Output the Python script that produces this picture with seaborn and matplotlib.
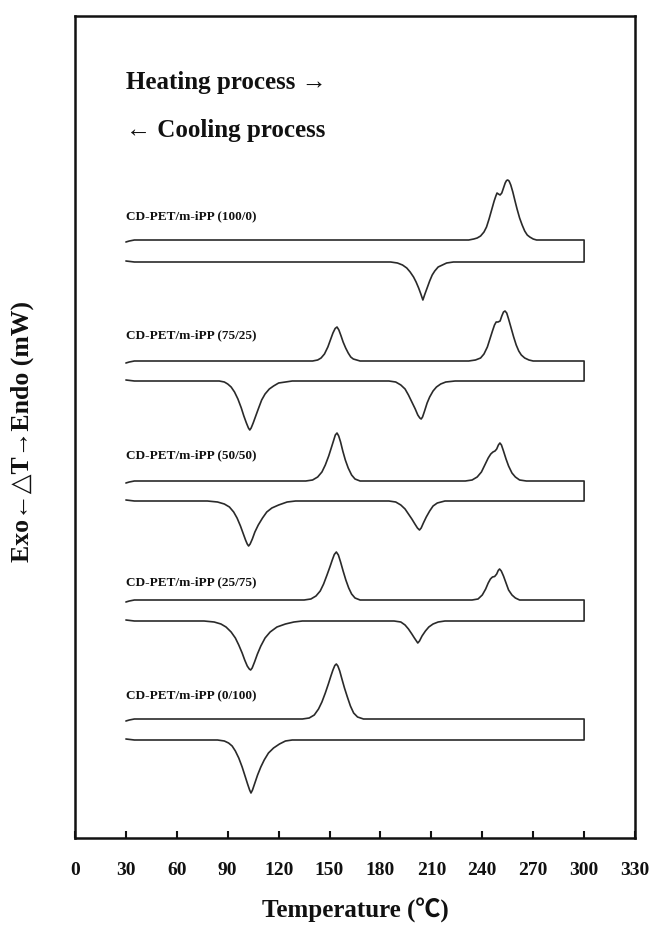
import matplotlib
matplotlib.use("Agg")
import matplotlib.pyplot as plt
import seaborn as sns

# DSC curves (signal in arbitrary units, endo up)
samples = ["CD-PET/m-iPP (100/0)", "CD-PET/m-iPP (75/25)", "CD-PET/m-iPP (50/50)",
           "CD-PET/m-iPP (25/75)", "CD-PET/m-iPP (0/100)"]

heat_T_100_0 = [30, 32, 35,
                232, 235, 237, 239, 241, 242.5, 244, 245.5, 247, 248, 248.7, 249.5, 250.5,
                251.5, 252.5, 253.5, 254.3, 255, 255.8, 256.8, 258, 259.3, 260.5, 262,
                263.5, 265, 266.5, 268, 270, 272, 300]
heat_S_100_0 = [-2, -1, 0,
                0, 1, 2, 4, 8, 13, 21, 30, 39, 44, 47, 46, 45,
                47, 52, 57, 59.5, 60, 59, 55, 48, 39, 31, 22,
                15, 9, 5, 3, 1, 0, 0]
cool_T_100_0 = [30, 35,
                186, 190, 193, 195.5, 197.5, 199.5, 201, 202.5, 203.8, 205, 206.2, 207.5,
                209, 210.5, 212, 214, 216.5, 219, 223, 300]
cool_S_100_0 = [1, 0,
                0, -1, -3, -6, -10, -15, -20, -26, -32, -38, -32, -26,
                -19, -13, -9, -5, -3, -1, 0, 0]

heat_T_75_25 = [30, 32, 35,
                140, 143, 145, 147, 149, 150.5, 152, 153.3, 154.4, 155.5, 156.8, 158, 159.5,
                161, 162.5, 164, 166, 168,
                232, 236, 239, 241, 243, 244.5, 246, 247.2, 248.2, 249.3, 250.5, 251.5, 252.5,
                253.4, 254.4, 255.5, 257, 258.5, 260, 261.5, 263, 265, 267.5, 270, 300]
heat_S_75_25 = [-2, -1, 0,
                0, 1, 3, 7, 14, 21, 28, 32.5, 34, 31, 25, 19, 13,
                8, 4, 2, 1, 0,
                0, 1, 3, 7, 14, 22, 30, 36, 39, 39, 40, 45, 49,
                50, 48, 42, 33, 24, 16, 10, 6, 3, 1, 0, 0]
cool_T_75_25 = [30, 35,
                85, 88, 90, 92, 94, 96, 98, 99.5, 101, 102.2, 103, 103.8, 105, 106.5, 108,
                110, 112, 114.5, 117, 120, 124, 128,
                185, 189, 192, 194.5, 196.5, 198.5, 200.5, 202, 203.2, 204, 204.8, 206, 207.5,
                209, 211, 213, 215.5, 218.5, 224, 300]
cool_S_75_25 = [1, 0,
                0, -1, -3, -6, -11, -18, -27, -35, -42, -47, -49, -47, -42, -35, -28,
                -19, -13, -8, -5, -2, -1, 0,
                0, -1, -4, -8, -14, -21, -28, -34, -37, -38, -36, -30, -22,
                -16, -10, -6, -3, -1, 0, 0]

heat_T_50_50 = [30, 32, 35,
                136, 140, 143, 145.5, 147.5, 149.5, 151, 152.3, 153.4, 154.4, 155.4, 156.5,
                157.8, 159.3, 161, 163, 165, 168,
                230, 234, 237, 239.5, 241.5, 243.5, 245, 246.3, 247.5, 248.5, 249.5, 250.4,
                251.3, 252.5, 254, 255.5, 257.5, 259.5, 262, 266, 300]
heat_S_50_50 = [-2, -1, 0,
                0, 1, 4, 9, 16, 25, 33, 40, 46, 48, 45, 39,
                30, 21, 13, 6, 2, 0,
                0, 1, 4, 9, 16, 23, 27, 29, 30, 32, 36, 38,
                36, 30, 22, 15, 8, 4, 1, 0, 0]
cool_T_50_50 = [30, 35,
                78, 84, 88, 91, 93.5, 95.5, 97.5, 99, 100.5, 101.5, 102.3, 103.2, 104.5, 106,
                108, 110.5, 113, 116, 120, 125, 130,
                185, 189, 192, 194.5, 196.5, 198.5, 200.3, 201.8, 203, 204, 205.3, 207, 209,
                211, 213.5, 218, 300]
cool_S_50_50 = [1, 0,
                0, -1, -3, -6, -11, -17, -25, -32, -39, -43, -45, -43, -38, -31,
                -24, -17, -11, -7, -4, -1, 0,
                0, -1, -4, -8, -13, -18, -23, -27, -29, -27, -22, -16, -10,
                -5, -2, 0, 0]

heat_T_25_75 = [30, 32, 35,
                135, 139, 142, 144.5, 146.5, 148.5, 150.2, 151.6, 152.8, 154, 155.2, 156.5,
                158, 159.6, 161.3, 163, 165, 168,
                234, 237.5, 240, 242, 243.5, 244.8, 246, 247.3, 248.5, 249.4, 250.2, 251.2,
                252.5, 254, 255.5, 257.5, 259.5, 262, 300]
heat_S_25_75 = [-2, -1, 0,
                0, 1, 4, 9, 16, 25, 33, 40, 45.5, 48, 45, 38,
                29, 20, 12, 6, 2, 0,
                0, 1, 5, 11, 17, 21, 23, 23.5, 26, 29.5, 31, 29,
                24, 17, 10, 5, 2, 0, 0]
cool_T_25_75 = [30, 35,
                76, 82, 86, 89, 92, 94.5, 96.5, 98.5, 100, 101.5, 102.7, 103.5, 104.4, 105.8,
                107.5, 109.5, 112, 115, 119, 124, 129, 134,
                188, 192, 194.5, 196.5, 198.5, 200, 201.2, 202, 203, 204.5, 206.5, 208.5,
                211, 214, 218, 300]
cool_S_25_75 = [1, 0,
                0, -1, -3, -6, -11, -17, -24, -32, -39, -45, -48, -49, -47, -41,
                -33, -25, -17, -11, -6, -3, -1, 0,
                0, -1, -4, -8, -13, -17, -20, -22, -20, -15, -10, -6,
                -3, -1, 0, 0]

heat_T_0_100 = [30, 32, 35,
                134, 138, 141, 143.5, 145.5, 147.5, 149.3, 150.8, 152, 153.1, 154, 154.9,
                156, 157.3, 158.8, 160.5, 162.3, 164.2, 166.5, 170, 300]
heat_S_0_100 = [-2, -1, 0,
                0, 1, 4, 10, 17, 26, 35, 43, 49, 53.5, 55, 53,
                48, 40, 31, 22, 13, 6, 2, 0, 0]
cool_T_0_100 = [30, 35,
                84, 88, 90.5, 92.6, 94.5, 96.5, 98.5, 100.2, 101.7, 102.9, 103.7, 104.6, 106,
                107.6, 109.5, 111.5, 114, 117, 120.5, 124, 128, 300]
cool_S_0_100 = [1, 0,
                0, -1, -3, -6, -11, -18, -27, -36, -44, -50, -53, -50, -43,
                -35, -27, -20, -13, -8, -4, -1, 0, 0]

heat_T = [heat_T_100_0, heat_T_75_25, heat_T_50_50, heat_T_25_75, heat_T_0_100]
heat_S = [heat_S_100_0, heat_S_75_25, heat_S_50_50, heat_S_25_75, heat_S_0_100]
cool_T = [cool_T_100_0, cool_T_75_25, cool_T_50_50, cool_T_25_75, cool_T_0_100]
cool_S = [cool_S_100_0, cool_S_75_25, cool_S_50_50, cool_S_25_75, cool_S_0_100]

x_ticks = [0, 30, 60, 90, 120, 150, 180, 210, 240, 270, 300, 330]

# layout: vertical stacking of the curves
heat_base = [598, 477, 357, 238, 119]
cool_base = [576, 457, 337, 217, 98]
label_y = [622, 503, 383, 256, 143]

sns.set_theme(style="white")
plt.rcParams["font.family"] = ["Liberation Serif", "DejaVu Sans"]
plt.rcParams["font.weight"] = "bold"

fig = plt.figure(figsize=(6.53, 9.26), dpi=100)
ax = fig.add_axes([75 / 653, 88 / 926, 560 / 653, 822 / 926])

line_col = "#2a2a2a"
for i, name in enumerate(samples):
    # heating run left to right, then the cooling run back from 300 C
    xs = list(heat_T[i]) + list(reversed(cool_T[i]))
    ys = [s + heat_base[i] for s in heat_S[i]] + [s + cool_base[i] for s in reversed(cool_S[i])]
    sns.lineplot(x=xs, y=ys, sort=False, estimator=None, ax=ax,
                 color=line_col, linewidth=1.2)
    ax.text(30, label_y[i], name, fontsize=9.5, fontweight="bold",
            ha="left", va="center", color="#111111")

ax.set_xlim(0, 330)
ax.set_ylim(0, 822)
ax.set_xticks(x_ticks)
ax.set_xticklabels([str(t) for t in x_ticks], fontsize=14, fontweight="bold")
ax.set_yticks([])
ax.tick_params(axis="x", direction="in", length=5, width=1.5, pad=17, colors="#111111",
               bottom=True)
for sp in ax.spines.values():
    sp.set_visible(True)
    sp.set_color("#111111")
    sp.set_linewidth(1.8)

ax.text(30, 756, "Heating process \u2192", fontsize=18, fontweight="bold",
        ha="left", va="center", color="#111111")
ax.text(30, 707, "\u2190 Cooling process", fontsize=18, fontweight="bold",
        ha="left", va="center", color="#111111")

fig.text(355 / 653, 1 - 910 / 926, "Temperature (\u2103)", fontsize=18, fontweight="bold",
         ha="center", va="center", color="#111111",
         family=["Liberation Serif", "Noto Sans CJK JP"])
fig.text(22 / 653, 1 - 432 / 926, "Exo\u2190\u25b3T\u2192Endo (mW)", fontsize=18.5,
         fontweight="bold", rotation=90, ha="center", va="center", color="#111111")

fig.savefig("out.png", dpi=100)
